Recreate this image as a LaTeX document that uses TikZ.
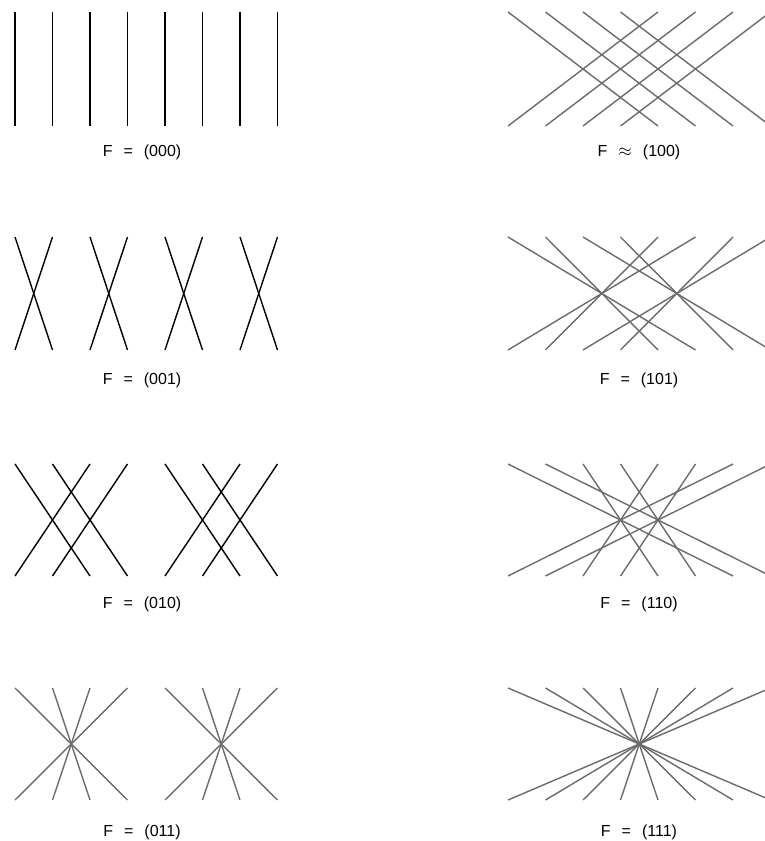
\documentclass[tikz,border=0pt]{standalone}
\usepackage{fontspec}
\setsansfont{Liberation Sans}

\tikzset{
  inkline/.style={line width=1.4pt, black},
  greyline/.style={line width=1.4pt, black!58},
  flabel/.style={font=\sffamily\fontsize{16}{16}\selectfont, inner sep=0pt}
}

% #1 name, #2 first x, #3 top y, #4 bottom y, #5 top/bottom pairs, #6 line style
\newcommand{\xorpanel}[6]{%
  \foreach \k in {0,...,7} {
    \coordinate (#1t\k) at ({#2+\k*37.5}, #3);
    \coordinate (#1b\k) at ({#2+\k*37.5}, #4);
  }
  \foreach \i/\j in {#5} \draw[#6] (#1t\i) -- (#1b\j);
}
\newcommand{\fsep}{\hspace{11pt}}

\begin{document}
\begin{tikzpicture}[x=1pt,y=1pt]
  \useasboundingbox (0,0) rectangle (765,841);

  % left column
  \xorpanel{a}{15}{829}{715}{0/0,1/1,2/2,3/3,4/4,5/5,6/6,7/7}{inkline}
  \node[flabel] (la) at (142,689) {F\fsep=\fsep(000)};

  \xorpanel{b}{15}{604}{491}{0/1,1/0,2/3,3/2,4/5,5/4,6/7,7/6}{inkline}
  \node[flabel] (lb) at (142,461) {F\fsep=\fsep(001)};

  \xorpanel{c}{15}{377}{265}{0/2,1/3,2/0,3/1,4/6,5/7,6/4,7/5}{inkline}
  \node[flabel] (lc) at (142,237) {F\fsep=\fsep(010)};

  \xorpanel{d}{15}{153}{41}{0/3,1/2,2/1,3/0,4/7,5/6,6/5,7/4}{greyline}
  \node[flabel] (ld) at (142,9) {F\fsep=\fsep(011)};

  % right column
  \xorpanel{e}{508}{829}{715}{0/4,1/5,2/6,3/7,4/0,5/1,6/2,7/3}{greyline}
  \node[flabel] (le) at (639,689) {F\fsep$\approx$\fsep(100)};

  \xorpanel{f}{508}{604}{491}{0/5,1/4,2/7,3/6,4/1,5/0,6/3,7/2}{greyline}
  \node[flabel] (lf) at (639,461) {F\fsep=\fsep(101)};

  \xorpanel{g}{508}{377}{265}{0/6,1/7,2/4,3/5,4/2,5/3,6/0,7/1}{greyline}
  \node[flabel] (lg) at (639,237) {F\fsep=\fsep(110)};

  \xorpanel{h}{508}{153}{41}{0/7,1/6,2/5,3/4,4/3,5/2,6/1,7/0}{greyline}
  \node[flabel] (lh) at (639,9) {F\fsep=\fsep(111)};
\end{tikzpicture}
\end{document}
